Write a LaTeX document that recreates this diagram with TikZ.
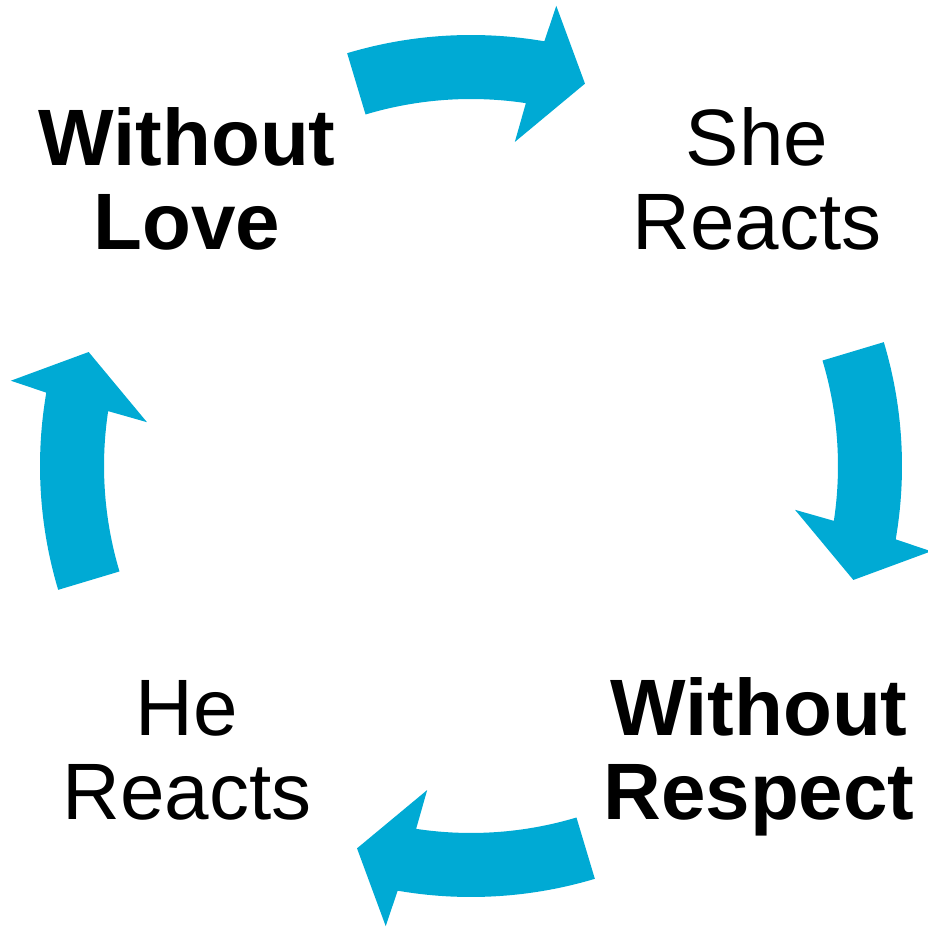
\documentclass[tikz,border=0pt]{standalone}
\usepackage{fontspec}
\setmainfont{Liberation Sans}
\definecolor{cyc}{RGB}{0,170,212}
\begin{document}
\begin{tikzpicture}[x=1pt,y=1pt,
  lbl/.style={inner sep=0pt, align=center, font=\fontsize{80}{84}\selectfont, anchor=base},
  boldlbl/.style={lbl, font=\fontsize{80}{84}\selectfont\bfseries},
  cyclearrow/.style={fill=cyc}]
\useasboundingbox (0,0) rectangle (928,930);
\coordinate (c) at (471,464);
\foreach \r in {0,-90,-180,-270} {
  \begin{scope}[shift={(c)}, rotate=\r]
    \fill[cyclearrow] (106.7:431pt) arc[start angle=106.7, end angle=80.2, radius=431pt]
      -- (79.5:468pt) -- (73.4:399pt) -- (82.3:327pt) -- (81.4:367pt)
      arc[start angle=81.4, end angle=106.7, radius=367pt] -- cycle;
  \end{scope}
}
\node[boldlbl] (wl) at (187,680) {Without\\Love};
\node[lbl] (sr) at (757,680) {She\\Reacts};
\node[boldlbl] (wr) at (759,110) {Without\\Respect};
\node[lbl] (hr) at (187,110) {He\\Reacts};
\end{tikzpicture}
\end{document}
